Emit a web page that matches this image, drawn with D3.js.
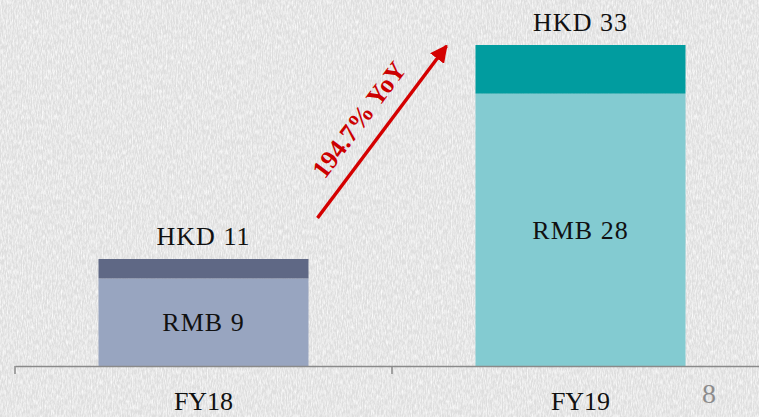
<!DOCTYPE html>
<html><head><meta charset="utf-8">
<script src="https://cdn.jsdelivr.net/npm/d3@7"></script>
<style>html,body{margin:0;padding:0;background:#ebebeb;overflow:hidden}</style>
</head><body>
<script>
const categories = ["FY18", "FY19"];
const rmbValues = [9, 28];
const hkdValues = [11, 33];
const rmbLabels = ["RMB 9", "RMB 28"];
const hkdLabels = ["HKD 11", "HKD 33"];
const growthLabel = "194.7% YoY";
const pageNumber = "8";

const W = 759, H = 417;
const svg = d3.select("body").append("svg").attr("width", W).attr("height", H);
const defs = svg.append("defs");
const f = defs.append("filter").attr("id","paper").attr("x",0).attr("y",0).attr("width","100%").attr("height","100%");
f.append("feTurbulence").attr("type","fractalNoise").attr("baseFrequency","0.8 0.2").attr("numOctaves",3).attr("seed",4).attr("result","n");
f.append("feColorMatrix").attr("in","n").attr("type","matrix")
 .attr("values","0 0 0 0 1  0 0 0 0 1  0 0 0 0 1  0 0 0 -1.6 1.05").attr("result","w");
f.append("feComposite").attr("in","w").attr("in2","SourceGraphic").attr("operator","over");
svg.append("rect").attr("width",W).attr("height",H).attr("fill","#dedede").attr("filter","url(#paper)");

const font = "'Liberation Serif', 'DejaVu Serif', serif";
const x = d3.scaleBand().domain(categories).range([15, 769]).padding(0);
const barW = x.bandwidth() * 0.557;
const y = d3.scaleLinear().domain([0, 33]).range([366, 45]);

const bottomColors = ["#98a5c0", "#83cbd1"];
const topColors = ["#5f6885", "#019c9f"];

const g = svg.append("g");
categories.forEach((c, i) => {
  const cx = x(c) + x.bandwidth()/2;
  g.append("rect").attr("x", cx - barW/2).attr("width", barW)
    .attr("y", y(rmbValues[i])).attr("height", y(0) - y(rmbValues[i])).attr("fill", bottomColors[i]);
  g.append("rect").attr("x", cx - barW/2).attr("width", barW)
    .attr("y", y(hkdValues[i])).attr("height", y(rmbValues[i]) - y(hkdValues[i])).attr("fill", topColors[i]);
  g.append("text").attr("x", cx).attr("y", y(hkdValues[i]) - 14).attr("text-anchor","middle")
    .attr("font-family", font).attr("font-size", 26).attr("fill","#111").attr("letter-spacing", 1).text(hkdLabels[i]);
  g.append("text").attr("x", cx).attr("y", (y(0)+y(rmbValues[i]))/2 + 9).attr("text-anchor","middle")
    .attr("font-family", font).attr("font-size", 26).attr("fill","#111").attr("letter-spacing", 1).text(rmbLabels[i]);
});

// axis
const axis = svg.append("g").attr("transform", `translate(0,${y(0)})`)
  .call(d3.axisBottom(x).tickSize(0).tickPadding(26));
axis.select(".domain").attr("stroke","#8a8a8a").attr("stroke-width",1.5);
axis.selectAll("text").attr("font-family", font).attr("font-size", 26).attr("fill","#111");
const bounds = categories.map(c => x(c)).concat([x.range()[1]]);
svg.append("g").selectAll("line").data(bounds).join("line")
  .attr("x1", d=>d).attr("x2", d=>d).attr("y1", y(0)).attr("y2", y(0)+8)
  .attr("stroke","#8a8a8a").attr("stroke-width",1.5);

// arrow
const x0 = x(categories[0]) + x.bandwidth()/2 + barW/2 + 9;
const x1 = x(categories[1]) + x.bandwidth()/2 - barW/2 - 29;
const y0 = y(hkdValues[0]) - 41, y1 = y(hkdValues[1]) + 1;
defs.append("marker").attr("id","ah").attr("viewBox","0 0 10 10").attr("refX",9).attr("refY",5)
  .attr("markerWidth",5).attr("markerHeight",5).attr("orient","auto")
  .append("path").attr("d","M0,0 L10,5 L0,10 Z").attr("fill","#d40000");
svg.append("line").attr("x1",x0).attr("y1",y0).attr("x2",x1).attr("y2",y1)
  .attr("stroke","#d40000").attr("stroke-width",3.5).attr("marker-end","url(#ah)");
const ang = Math.atan2(y1 - y0, x1 - x0) * 180 / Math.PI;
svg.append("text").attr("transform", `translate(366,125) rotate(${ang})`)
  .attr("text-anchor","middle").attr("font-family", font).attr("font-size", 26).attr("font-weight","bold")
  .attr("fill","#cc0000").text(growthLabel);

svg.append("text").attr("x", 709).attr("y", 403).attr("text-anchor","middle")
  .attr("font-family", font).attr("font-size", 28).attr("fill","#8c8c8c").text(pageNumber);
</script>
</body></html>
